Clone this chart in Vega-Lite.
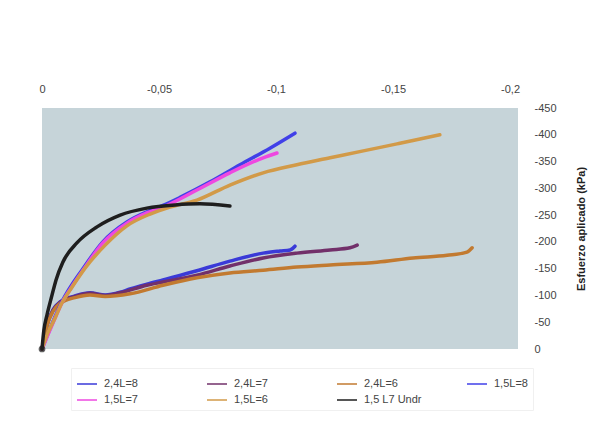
{
  "$schema": "https://vega.github.io/schema/vega-lite/v6.json",
  "width": 476,
  "height": 241,
  "autosize": {"type": "none"},
  "padding": {"left": 42, "top": 108, "right": 98, "bottom": 79},
  "background": "#ffffff",
  "config": {
    "font": "Liberation Sans",
    "view": {"fill": "#c6d4d9", "stroke": null},
    "locale": {"number": {"decimal": ",", "thousands": ".", "grouping": [3], "currency": ["", " €"], "minus": "-"}},
    "axis": {"labelOverlap": false}
  },
  "datasets": {
    "curves": [
      {"s": "2,4L=8", "x": 0, "y": 0},
      {"s": "2,4L=8", "x": -0.0021, "y": -45},
      {"s": "2,4L=8", "x": -0.0047, "y": -73},
      {"s": "2,4L=8", "x": -0.0077, "y": -88},
      {"s": "2,4L=8", "x": -0.0141, "y": -99},
      {"s": "2,4L=8", "x": -0.0205, "y": -105},
      {"s": "2,4L=8", "x": -0.027, "y": -101},
      {"s": "2,4L=8", "x": -0.0334, "y": -106},
      {"s": "2,4L=8", "x": -0.0376, "y": -112},
      {"s": "2,4L=8", "x": -0.0448, "y": -121},
      {"s": "2,4L=8", "x": -0.0517, "y": -129},
      {"s": "2,4L=8", "x": -0.0662, "y": -146},
      {"s": "2,4L=8", "x": -0.0803, "y": -164},
      {"s": "2,4L=8", "x": -0.0945, "y": -179},
      {"s": "2,4L=8", "x": -0.1017, "y": -183},
      {"s": "2,4L=8", "x": -0.106, "y": -185},
      {"s": "2,4L=8", "x": -0.1081, "y": -192},

      {"s": "2,4L=7", "x": 0, "y": 0},
      {"s": "2,4L=7", "x": -0.0021, "y": -44},
      {"s": "2,4L=7", "x": -0.0047, "y": -72},
      {"s": "2,4L=7", "x": -0.0077, "y": -87},
      {"s": "2,4L=7", "x": -0.0141, "y": -98},
      {"s": "2,4L=7", "x": -0.0205, "y": -104},
      {"s": "2,4L=7", "x": -0.027, "y": -100},
      {"s": "2,4L=7", "x": -0.0334, "y": -105},
      {"s": "2,4L=7", "x": -0.0448, "y": -119},
      {"s": "2,4L=7", "x": -0.0517, "y": -125},
      {"s": "2,4L=7", "x": -0.0662, "y": -138},
      {"s": "2,4L=7", "x": -0.0803, "y": -155},
      {"s": "2,4L=7", "x": -0.0945, "y": -170},
      {"s": "2,4L=7", "x": -0.1089, "y": -179},
      {"s": "2,4L=7", "x": -0.1231, "y": -185},
      {"s": "2,4L=7", "x": -0.1316, "y": -189},
      {"s": "2,4L=7", "x": -0.1347, "y": -194},

      {"s": "2,4L=6", "x": 0, "y": 0},
      {"s": "2,4L=6", "x": -0.0021, "y": -43},
      {"s": "2,4L=6", "x": -0.0047, "y": -70},
      {"s": "2,4L=6", "x": -0.0077, "y": -85},
      {"s": "2,4L=6", "x": -0.0141, "y": -96},
      {"s": "2,4L=6", "x": -0.0205, "y": -101},
      {"s": "2,4L=6", "x": -0.027, "y": -98},
      {"s": "2,4L=6", "x": -0.0376, "y": -103},
      {"s": "2,4L=6", "x": -0.0517, "y": -119},
      {"s": "2,4L=6", "x": -0.0662, "y": -133},
      {"s": "2,4L=6", "x": -0.0803, "y": -142},
      {"s": "2,4L=6", "x": -0.0945, "y": -147},
      {"s": "2,4L=6", "x": -0.1089, "y": -153},
      {"s": "2,4L=6", "x": -0.1231, "y": -157},
      {"s": "2,4L=6", "x": -0.1432, "y": -162},
      {"s": "2,4L=6", "x": -0.1586, "y": -170},
      {"s": "2,4L=6", "x": -0.1731, "y": -175},
      {"s": "2,4L=6", "x": -0.1816, "y": -181},
      {"s": "2,4L=6", "x": -0.1838, "y": -189},

      {"s": "1,5L=8", "x": 0, "y": 0},
      {"s": "1,5L=8", "x": -0.0025, "y": -28},
      {"s": "1,5L=8", "x": -0.0085, "y": -88},
      {"s": "1,5L=8", "x": -0.0175, "y": -150},
      {"s": "1,5L=8", "x": -0.026, "y": -200},
      {"s": "1,5L=8", "x": -0.0363, "y": -237},
      {"s": "1,5L=8", "x": -0.0448, "y": -256},
      {"s": "1,5L=8", "x": -0.0517, "y": -268},
      {"s": "1,5L=8", "x": -0.059, "y": -283},
      {"s": "1,5L=8", "x": -0.0718, "y": -312},
      {"s": "1,5L=8", "x": -0.0846, "y": -344},
      {"s": "1,5L=8", "x": -0.0974, "y": -375},
      {"s": "1,5L=8", "x": -0.1081, "y": -403},

      {"s": "1,5L=7", "x": 0, "y": 0},
      {"s": "1,5L=7", "x": -0.0025, "y": -26},
      {"s": "1,5L=7", "x": -0.0056, "y": -58},
      {"s": "1,5L=7", "x": -0.0085, "y": -86},
      {"s": "1,5L=7", "x": -0.0111, "y": -105},
      {"s": "1,5L=7", "x": -0.0175, "y": -147},
      {"s": "1,5L=7", "x": -0.026, "y": -198},
      {"s": "1,5L=7", "x": -0.0363, "y": -235},
      {"s": "1,5L=7", "x": -0.0448, "y": -254},
      {"s": "1,5L=7", "x": -0.0517, "y": -265},
      {"s": "1,5L=7", "x": -0.0662, "y": -297},
      {"s": "1,5L=7", "x": -0.0803, "y": -329},
      {"s": "1,5L=7", "x": -0.0945, "y": -357},
      {"s": "1,5L=7", "x": -0.1004, "y": -366},

      {"s": "1,5L=6", "x": 0, "y": 0},
      {"s": "1,5L=6", "x": -0.0025, "y": -30},
      {"s": "1,5L=6", "x": -0.0056, "y": -58},
      {"s": "1,5L=6", "x": -0.0085, "y": -86},
      {"s": "1,5L=6", "x": -0.012, "y": -110},
      {"s": "1,5L=6", "x": -0.0184, "y": -151},
      {"s": "1,5L=6", "x": -0.027, "y": -194},
      {"s": "1,5L=6", "x": -0.0363, "y": -230},
      {"s": "1,5L=6", "x": -0.0462, "y": -252},
      {"s": "1,5L=6", "x": -0.0547, "y": -265},
      {"s": "1,5L=6", "x": -0.0662, "y": -278},
      {"s": "1,5L=6", "x": -0.0803, "y": -306},
      {"s": "1,5L=6", "x": -0.0945, "y": -329},
      {"s": "1,5L=6", "x": -0.1089, "y": -344},
      {"s": "1,5L=6", "x": -0.1231, "y": -357},
      {"s": "1,5L=6", "x": -0.1373, "y": -370},
      {"s": "1,5L=6", "x": -0.1517, "y": -383},
      {"s": "1,5L=6", "x": -0.1615, "y": -392},
      {"s": "1,5L=6", "x": -0.17, "y": -400},

      {"s": "1,5 L7 Undr", "x": 0, "y": 0},
      {"s": "1,5 L7 Undr", "x": -0.0008, "y": -35},
      {"s": "1,5 L7 Undr", "x": -0.0021, "y": -63},
      {"s": "1,5 L7 Undr", "x": -0.0043, "y": -101},
      {"s": "1,5 L7 Undr", "x": -0.006, "y": -129},
      {"s": "1,5 L7 Undr", "x": -0.0089, "y": -162},
      {"s": "1,5 L7 Undr", "x": -0.0149, "y": -198},
      {"s": "1,5 L7 Undr", "x": -0.0235, "y": -228},
      {"s": "1,5 L7 Undr", "x": -0.0334, "y": -250},
      {"s": "1,5 L7 Undr", "x": -0.0448, "y": -263},
      {"s": "1,5 L7 Undr", "x": -0.0569, "y": -269},
      {"s": "1,5 L7 Undr", "x": -0.0675, "y": -271},
      {"s": "1,5 L7 Undr", "x": -0.0803, "y": -267}
    ]
  },
  "data": {"name": "curves"},
  "layer": [
    {
      "mark": {"type": "line", "strokeWidth": 3.5, "strokeCap": "round", "strokeJoin": "round", "interpolate": "monotone"},
      "encoding": {
        "x": {
          "field": "x", "type": "quantitative",
          "scale": {"domain": [0, -0.2034], "nice": false, "zero": false},
          "axis": {
            "orient": "top", "title": null, "domain": false, "ticks": false, "grid": false,
            "values": [0, -0.05, -0.1, -0.15, -0.2],
            "format": "~g",
            "labelFontSize": 11, "labelColor": "#444444", "labelPadding": 14, "labelFlush": false
          }
        },
        "y": {
          "field": "y", "type": "quantitative",
          "scale": {"domain": [0, -450], "nice": false, "zero": false},
          "axis": {
            "orient": "right", "domain": false, "ticks": false, "grid": false,
            "tickCount": 9,
            "format": "d",
            "labelFontSize": 11, "labelColor": "#444444", "labelPadding": 16, "labelFlush": false,
            "title": "Esfuerzo aplicado (kPa)", "titleAngle": 270, "titleFontSize": 11,
            "titleFontWeight": "bold", "titleColor": "#222222", "titlePadding": 30
          }
        },
        "color": {
          "field": "s", "type": "nominal",
          "scale": {
            "domain": ["2,4L=8", "2,4L=7", "2,4L=6", "1,5L=8", "1,5L=7", "1,5L=6", "1,5 L7 Undr"],
            "range": ["#3a3ad8", "#72306a", "#c27a30", "#4040e8", "#ee48e0", "#d29a48", "#1e1e1e"]
          },
          "legend": {
            "title": null, "orient": "none", "legendX": 29, "legendY": 260,
            "direction": "horizontal", "columns": 4, "gridAlign": "all",
            "columnPadding": 42, "rowPadding": 0,
            "symbolType": "stroke", "symbolSize": 400, "symbolStrokeWidth": 1.5,
            "labelFontSize": 11, "labelColor": "#444444", "labelOffset": 6,
            "padding": 5, "strokeColor": "#f0f0f0"
          }
        }
      }
    },
    {
      "transform": [{"filter": "datum.s == '1,5 L7 Undr' && datum.x == 0"}],
      "mark": {"type": "point", "filled": true, "size": 45, "color": "#1e1e1e"},
      "encoding": {
        "x": {"field": "x", "type": "quantitative"},
        "y": {"field": "y", "type": "quantitative"}
      }
    }
  ]
}
